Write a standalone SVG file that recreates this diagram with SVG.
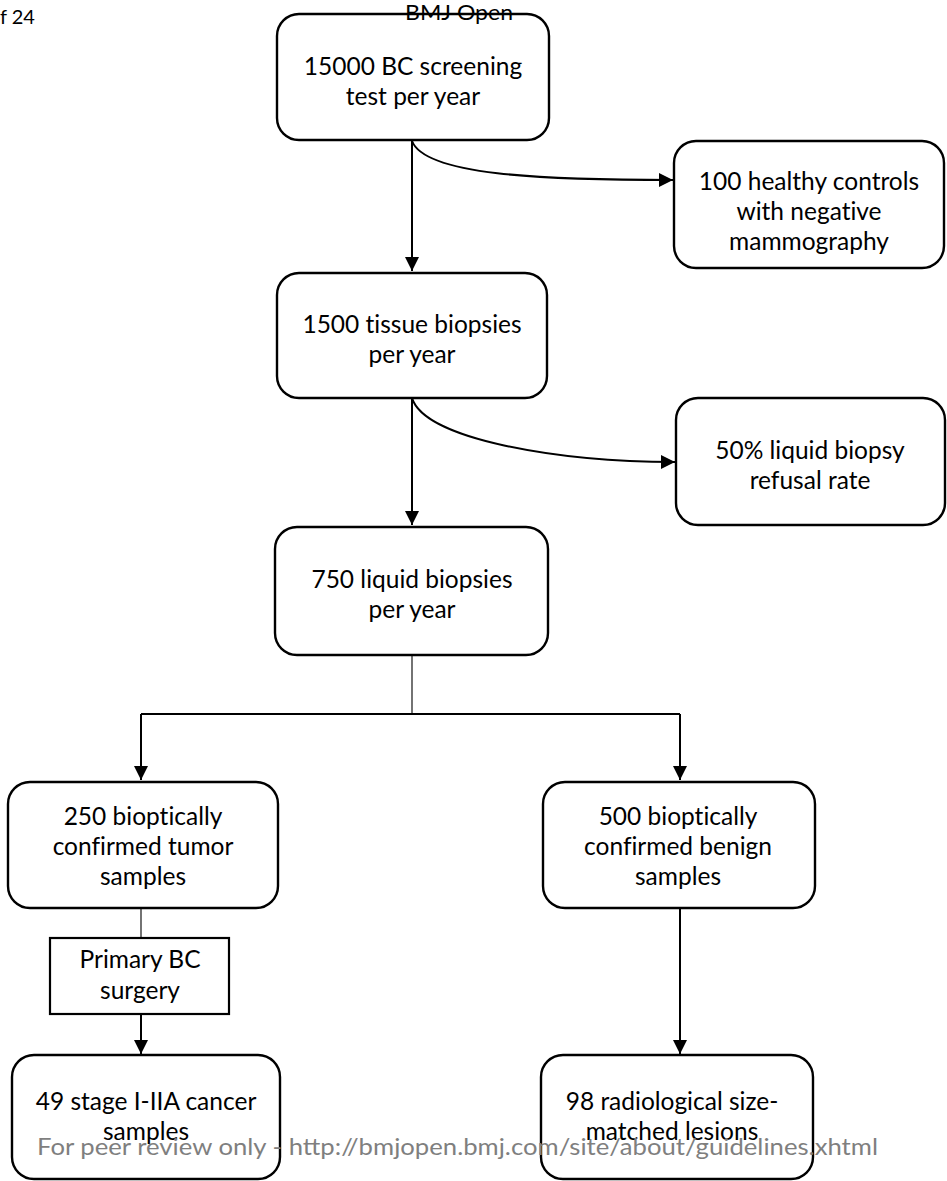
<svg xmlns="http://www.w3.org/2000/svg" width="947" height="1181" viewBox="0 0 947 1181">
<defs>
<marker id="ah" markerWidth="14" markerHeight="14" viewBox="0 0 14 14" refX="14" refY="7" orient="auto" markerUnits="userSpaceOnUse">
<path d="M0,0 L14,7 L0,14 Z" fill="#000"/>
</marker>
<style>
.n{fill:#fff;stroke:#000;stroke-width:2.4}
.t{font-family:Lato,"Open Sans",sans-serif;font-size:24.5px;fill:#000;text-anchor:middle;font-variant-ligatures:none}
.c{fill:none;stroke:#000;stroke-width:2}
.thin{fill:none;stroke:#000;stroke-width:1.1}
</style>
</defs>
<rect width="947" height="1181" fill="#fff"/>
<text x="0" y="24" style="font-family:Lato,sans-serif;font-size:20px;fill:#000">f 24</text>
<g id="n1"><rect class="n" x="277" y="14" width="272" height="126" rx="22"/><text class="t" x="413" y="75">15000 BC screening</text><text class="t" x="413" y="105">test per year</text></g>
<text x="405" y="20" textLength="108" lengthAdjust="spacingAndGlyphs" style="font-family:Lato,sans-serif;font-size:21px;fill:#000">BMJ Open</text>
<g id="n2"><rect class="n" x="674" y="141" width="270" height="127" rx="22"/><text class="t" x="809" y="190">100 healthy controls</text><text class="t" x="809" y="220">with negative</text><text class="t" x="809" y="250">mammography</text></g>
<g id="n3"><rect class="n" x="277" y="273" width="270" height="125" rx="22"/><text class="t" x="412" y="333">1500 tissue biopsies</text><text class="t" x="412" y="363">per year</text></g>
<g id="n4"><rect class="n" x="676" y="398" width="269" height="127" rx="22"/><text class="t" x="810" y="459">50% liquid biopsy</text><text class="t" x="810" y="489">refusal rate</text></g>
<g id="n5"><rect class="n" x="275" y="527" width="273" height="128" rx="22"/><text class="t" x="412" y="588">750 liquid biopsies</text><text class="t" x="412" y="618">per year</text></g>
<g id="n6"><rect class="n" x="8" y="782" width="270" height="126" rx="22"/><text class="t" x="143" y="825">250 bioptically</text><text class="t" x="143" y="855">confirmed tumor</text><text class="t" x="143" y="885">samples</text></g>
<g id="n7"><rect class="n" x="543" y="782" width="272" height="126" rx="22"/><text class="t" x="678" y="825">500 bioptically</text><text class="t" x="678" y="855">confirmed benign</text><text class="t" x="678" y="885">samples</text></g>
<g id="n8"><rect x="50" y="938" width="179" height="76" fill="#fff" stroke="#000" stroke-width="2.2"/><text class="t" x="140" y="968">Primary BC</text><text class="t" x="140" y="999">surgery</text></g>
<g id="n9"><rect class="n" x="12" y="1055" width="268" height="124" rx="22"/><text class="t" x="146" y="1110">49 stage I-IIA cancer</text><text class="t" x="146" y="1140">samples</text></g>
<g id="n10"><rect class="n" x="541" y="1055" width="272" height="124" rx="22"/><text class="t" x="672" y="1110">98 radiological size-</text><text class="t" x="672" y="1140">matched lesions</text></g>
<g id="connectors">
<path class="c" d="M412,141 L412,271" marker-end="url(#ah)"/>
<path class="c" d="M412,141 C425,175 540,180 673,180" marker-end="url(#ah)"/>
<path class="c" d="M412,398 L412,525" marker-end="url(#ah)"/>
<path class="c" d="M412,398 C425,440 560,462 675,462" marker-end="url(#ah)"/>
<path class="thin" d="M412,655 L412,714"/>
<path class="c" d="M141,714 L680,714"/>
<path class="c" d="M141,714 L141,780" marker-end="url(#ah)"/>
<path class="c" d="M680,714 L680,780" marker-end="url(#ah)"/>
<path class="thin" d="M141,908 L141,938"/>
<path class="c" d="M141,1014 L141,1054" marker-end="url(#ah)"/>
<path class="c" d="M680,908 L680,1054" marker-end="url(#ah)"/>
</g>
<text x="37" y="1155" style="font-family:Lato,sans-serif;font-size:23px;fill:#7f7f7f" textLength="841" lengthAdjust="spacingAndGlyphs">For peer review only - http://bmjopen.bmj.com/site/about/guidelines.xhtml</text>
</svg>
